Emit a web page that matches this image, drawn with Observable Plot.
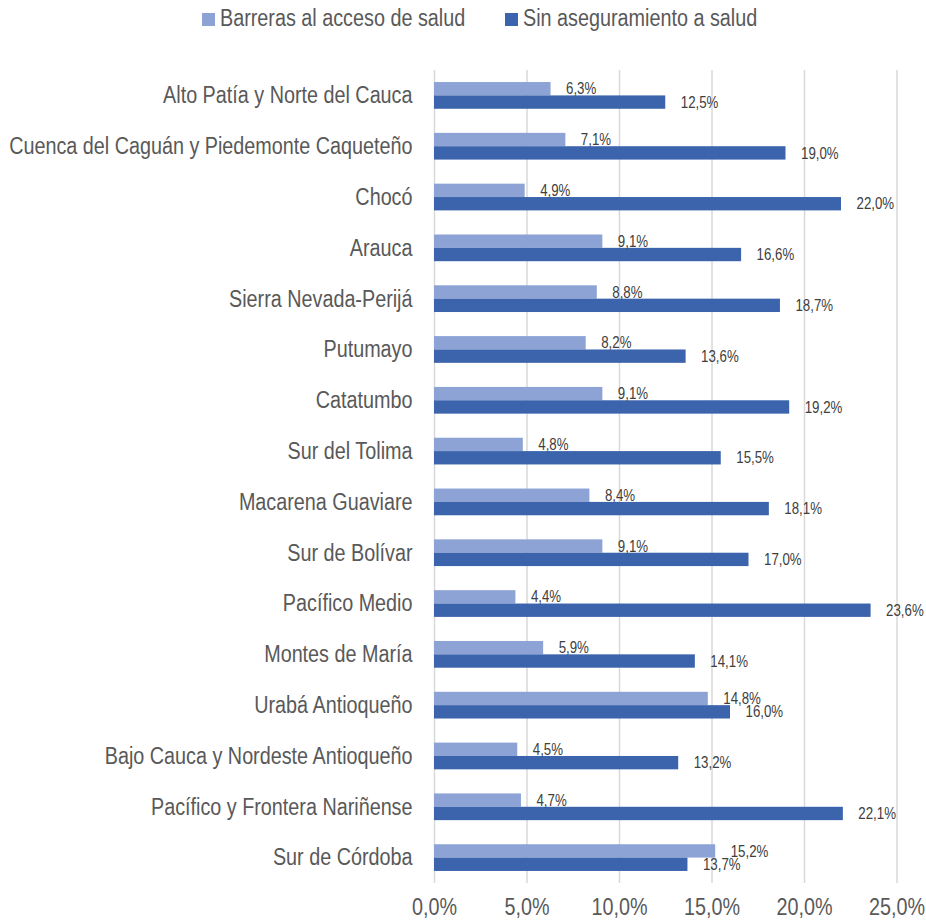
<!DOCTYPE html>
<html>
<head>
<meta charset="utf-8">
<script src="https://cdn.jsdelivr.net/npm/d3@7"></script>
<script src="https://cdn.jsdelivr.net/npm/@observablehq/plot@0.6"></script>
<style>
  body { margin: 0; background: #fff; font-family: "Liberation Sans", Arial, sans-serif; }
  #legend { position: relative; height: 40px; font-size: 23px; color: #595959; }
  .sw { position: absolute; top: 13px; width: 13px; height: 13px; }
  .lt { position: absolute; top: 5px; line-height: 26px; white-space: nowrap; transform: scaleX(0.86); transform-origin: 0 50%; }
  #chart svg { display: block; }
</style>
</head>
<body>
<div id="legend"></div>
<div id="chart"></div>
<script>
const categories = [
  "Alto Patía y Norte del Cauca",
  "Cuenca del Caguán y Piedemonte Caqueteño",
  "Chocó",
  "Arauca",
  "Sierra Nevada-Perijá",
  "Putumayo",
  "Catatumbo",
  "Sur del Tolima",
  "Macarena Guaviare",
  "Sur de Bolívar",
  "Pacífico Medio",
  "Montes de María",
  "Urabá Antioqueño",
  "Bajo Cauca y Nordeste Antioqueño",
  "Pacífico y Frontera Nariñense",
  "Sur de Córdoba"
];
const barreras = [6.3, 7.1, 4.9, 9.1, 8.8, 8.2, 9.1, 4.8, 8.4, 9.1, 4.4, 5.9, 14.8, 4.5, 4.7, 15.2];
const sinAseguramiento = [12.5, 19.0, 22.0, 16.6, 18.7, 13.6, 19.2, 15.5, 18.1, 17.0, 23.6, 14.1, 16.0, 13.2, 22.1, 13.7];
const seriesNames = ["Barreras al acceso de salud", "Sin aseguramiento a salud"];
const seriesColors = ["#8ea3d5", "#3b64ad"];
const xTicks = [0, 5, 10, 15, 20, 25];

const fmt = v => v.toFixed(1).replace(".", ",") + "%";

const light = categories.map((c, i) => ({region: c, value: barreras[i]}));
const dark = categories.map((c, i) => ({region: c, value: sinAseguramiento[i]}));

// legend (positions of swatches and labels)
const legendX = [202, 505];
const legend = document.getElementById("legend");
seriesNames.forEach((n, i) => {
  const sw = document.createElement("div");
  sw.className = "sw";
  sw.style.left = legendX[i] + "px";
  sw.style.background = seriesColors[i];
  const t = document.createElement("span");
  t.className = "lt";
  t.style.left = (legendX[i] + 17.5) + "px";
  t.textContent = n;
  legend.appendChild(sw); legend.appendChild(t);
});

const height = 883;
const marginTop = 30;
const marginBottom = 40;
const pIn = 0.474;
const step = (height - marginTop - marginBottom) / categories.length;
const bw = step * (1 - pIn);

const chart = Plot.plot({
  width: 926,
  height,
  marginTop,
  marginBottom,
  marginLeft: 434,
  marginRight: 29.5,
  style: {fontFamily: '"Liberation Sans", Arial, sans-serif', fontSize: "23px", color: "#595959", background: "#fff"},
  x: {domain: [0, 25], ticks: xTicks},
  y: {domain: categories, paddingInner: pIn, paddingOuter: pIn / 2, round: false},
  marks: [
    Plot.gridX(xTicks, {stroke: "#d9d9d9", strokeOpacity: 1, strokeWidth: 1.5}),
    Plot.barX(light, {x: "value", y: "region", fill: seriesColors[0], insetBottom: bw / 2}),
    Plot.barX(dark, {x: "value", y: "region", fill: seriesColors[1], insetTop: bw / 2}),
    Plot.text(light, {x: "value", y: "region", text: d => fmt(d.value), dx: 15, dy: -bw / 4, textAnchor: "start", fontSize: 16, fill: "#404040"}),
    Plot.text(dark, {x: "value", y: "region", text: d => fmt(d.value), dx: 15, dy: bw / 4, textAnchor: "start", fontSize: 16, fill: "#404040"}),
    Plot.axisX(xTicks, {tickSize: 0, tickPadding: 15, tickFormat: fmt, label: null, fontSize: 23, fill: "#595959"}),
    Plot.axisY({tickSize: 0, tickPadding: 22, label: null, fontSize: 23, fill: "#595959"})
  ]
});
document.getElementById("chart").appendChild(chart);

// condense the text horizontally around its anchor (narrow-font look)
chart.querySelectorAll("text").forEach(el => {
  const fs = parseFloat(getComputedStyle(el).fontSize);
  const s = fs < 20 ? 0.83 : 0.86;
  const x = +el.getAttribute("x") || 0;
  const y = +el.getAttribute("y") || 0;
  const t = el.getAttribute("transform") || "";
  el.setAttribute("transform", `${t} translate(${x},${y}) scale(${s},1) translate(${-x},${-y})`);
});
</script>
</body>
</html>
